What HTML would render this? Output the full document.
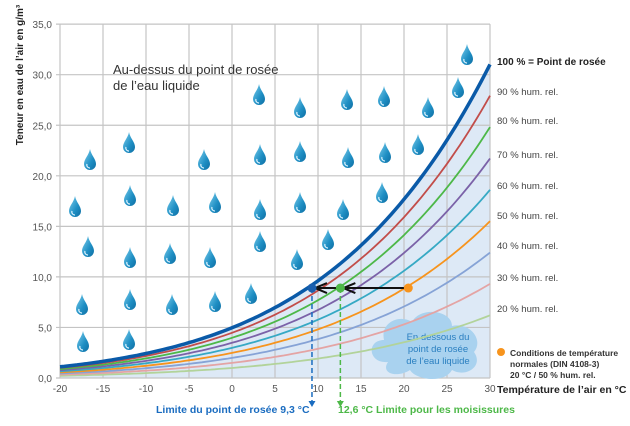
<!DOCTYPE html>
<html><head><meta charset="utf-8"><style>
html,body{margin:0;padding:0;background:#fff;}
svg{display:block;font-family:"Liberation Sans",sans-serif;}
</style></head><body>
<svg id="s" width="630" height="426" viewBox="0 0 630 426" xmlns="http://www.w3.org/2000/svg">
<defs>
<linearGradient id="dg" x1="0" y1="0" x2="1" y2="1">
<stop offset="0" stop-color="#7fd0ee"/><stop offset="0.6" stop-color="#1f8fc4"/><stop offset="1" stop-color="#0e6ea3"/>
</linearGradient>
<symbol id="drop" viewBox="0 0 14 22"><path d="M7 0 C8 6 13 10 13 15 A6 6 0 0 1 1 15 C1 10 6 6 7 0Z" fill="url(#dg)"/><path d="M4 15 A3 3 0 0 0 7 19" stroke="#dff4ff" stroke-width="1.2" fill="none"/></symbol>
</defs>
<g id="g"></g>
</svg>
<script>
var g=document.getElementById('g'),NS='http://www.w3.org/2000/svg';
function X(t){return 60+(t+20)*8.6;}function Y(v){return 378-v*10.11;}
function el(n,a,txt){var e=document.createElementNS(NS,n);for(var k in a)e.setAttribute(k,a[k]);if(txt!=null)e.textContent=txt;g.appendChild(e);return e;}
function ah(t){var e=6.112*Math.exp(17.62*t/(243.12+t));return 216.7*e/(t+273.15)*1.025;}
function path(rh){var d='';for(var t=-20;t<=30.01;t+=0.5){d+=(d?'L':'M')+X(t).toFixed(1)+','+Y(ah(t)*rh).toFixed(1);}return d;}
el('path',{d:path(1)+'L'+X(30)+','+Y(0)+'L'+X(-20)+','+Y(0)+'Z',fill:'#dde9f6'});
for(var t=-20;t<=30;t+=5)el('line',{x1:X(t),x2:X(t),y1:Y(35),y2:Y(0),stroke:'#c4c4c4','stroke-width':1.2});
for(var v=0;v<=35;v+=5){el('line',{x1:X(-20)-4,x2:X(30),y1:Y(v),y2:Y(v),stroke:'#c4c4c4','stroke-width':1.2});
el('text',{x:X(-20)-8,y:Y(v)+4,'font-size':10,fill:'#555','text-anchor':'end'},v.toFixed(1).replace('.',','));}
for(var t=-20;t<=30;t+=5)el('text',{x:X(t),y:392,'font-size':10,fill:'#555','text-anchor':'middle'},t);
var D=[[467,55],[259,95],[300,108],[347,100],[384,97],[428,108],[90,160],[129,143],[204,160],[260,155],[300,152],[348,158],[385,153],[418,145],[75,207],[130,196],[173,206],[215,203],[260,210],[300,203],[343,210],[382,193],[88,247],[130,258],[170,254],[210,258],[260,242],[297,260],[328,240],[82,305],[130,300],[172,305],[215,302],[251,294],[83,342],[129,340],[458,88]];
D.forEach(function(p){el('use',{href:'#drop',x:p[0]-7,y:p[1]-11,width:14,height:22});});
el('path',{d:'M388 362 C368 364 366 340 384 340 C380 322 400 314 412 322 C420 306 452 310 452 326 C470 322 484 340 474 352 C484 366 466 378 452 370 C444 384 416 380 410 370 C398 378 380 374 388 362Z',fill:'#a9d2ef'});
el('text',{x:438,y:340,'font-size':9.5,fill:'#2a7fc0','text-anchor':'middle'},'En dessous du');
el('text',{x:438,y:352,'font-size':9.5,fill:'#2a7fc0','text-anchor':'middle'},'point de rosée');
el('text',{x:438,y:364,'font-size':9.5,fill:'#2a7fc0','text-anchor':'middle'},'de l\u2019eau liquide');
var C=[[0.2,'#b2d39a',1.8],[0.3,'#e4a4a4',1.8],[0.4,'#86a3d6',1.8],[0.5,'#f7941d',1.8],[0.6,'#36a9c4',1.8],[0.7,'#7b62a8',1.8],[0.8,'#4db848',1.8],[0.9,'#c24d4a',1.8],[1,'#0a5aa8',3.5]];
C.forEach(function(c){el('path',{d:path(c[0]),fill:'none',stroke:c[1],'stroke-width':c[2]});});
el('line',{x1:X(9.3),x2:X(9.3),y1:Y(8.9),y2:402,stroke:'#1a6cc0','stroke-width':1.5,'stroke-dasharray':'5,3'});
el('path',{d:'M'+(X(9.3)-3.5)+',401 L'+(X(9.3)+3.5)+',401 L'+X(9.3)+',407Z',fill:'#1a6cc0'});
el('line',{x1:X(12.6),x2:X(12.6),y1:Y(8.9),y2:402,stroke:'#4db848','stroke-width':1.5,'stroke-dasharray':'5,3'});
el('path',{d:'M'+(X(12.6)-3.5)+',401 L'+(X(12.6)+3.5)+',401 L'+X(12.6)+',407Z',fill:'#4db848'});
var yy=Y(8.9);
el('line',{x1:X(20.5),x2:X(12.6)+6,y1:yy,y2:yy,stroke:'#111','stroke-width':2});
el('path',{d:'M'+(X(12.6)+3)+','+yy+' l12,-5 M'+(X(12.6)+3)+','+yy+' l12,5',stroke:'#111','stroke-width':2,fill:'none'});
el('line',{x1:X(12.6),x2:X(9.3)+6,y1:yy,y2:yy,stroke:'#111','stroke-width':2});
el('path',{d:'M'+(X(9.3)+3)+','+yy+' l12,-5 M'+(X(9.3)+3)+','+yy+' l12,5',stroke:'#111','stroke-width':2,fill:'none'});
el('circle',{cx:X(20.5),cy:yy,r:4.5,fill:'#f7941d'});
el('circle',{cx:X(12.6),cy:yy,r:4.5,fill:'#4db848'});
el('circle',{cx:X(9.3),cy:yy,r:4.5,fill:'#1a5fae'});
el('text',{x:113,y:74,'font-size':13,fill:'#333'},'Au-dessus du point de rosée');
el('text',{x:113,y:90,'font-size':13,fill:'#333'},'de l\u2019eau liquide');
el('text',{x:0,y:0,'font-size':10,'font-weight':'bold',fill:'#222','text-anchor':'middle',transform:'translate(23,75) rotate(-90)'},'Teneur en eau de l\u2019air en g/m³');
el('text',{x:497,y:393,'font-size':10.5,'font-weight':'bold',fill:'#222'},'Température de l\u2019air en °C');
el('text',{x:156,y:413,'font-size':10.5,'font-weight':'bold',fill:'#1a6cc0'},'Limite du point de rosée 9,3 °C');
el('text',{x:338,y:413,'font-size':10.5,'font-weight':'bold',fill:'#4db848'},'12,6 °C Limite pour les moisissures');
el('text',{x:497,y:65,'font-size':10,'font-weight':'bold',fill:'#222'},'100 % = Point de rosée');
var L=[['90',95],['80',124],['70',158],['60',189],['50',219],['40',249],['30',281],['20',312]];
L.forEach(function(l){el('text',{x:497,y:l[1],'font-size':9.5,fill:'#444'},l[0]+' % hum. rel.');});
el('circle',{cx:501,cy:352,r:4,fill:'#f7941d'});
el('text',{x:510,y:356,'font-size':8.5,'font-weight':'bold',fill:'#333'},'Conditions de température');
el('text',{x:510,y:367,'font-size':8.5,'font-weight':'bold',fill:'#333'},'normales (DIN 4108-3)');
el('text',{x:510,y:378,'font-size':8.5,'font-weight':'bold',fill:'#333'},'20 °C / 50 % hum. rel.');
</script>
</body></html>
